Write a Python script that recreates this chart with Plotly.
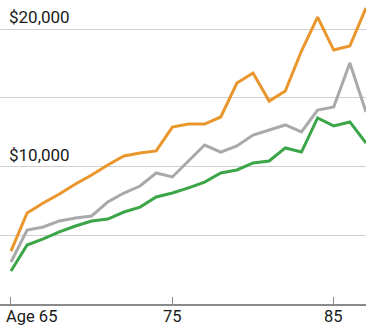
import plotly.graph_objects as go

ages = list(range(65, 88))
orange = [3850, 6620, 7350, 8000, 8730, 9380, 10110, 10760, 10980, 11130, 12870, 13090,
          13090, 13600, 16070, 16800, 14760, 15490, 18400, 20870, 18470, 18760, 21530]
gray = [3050, 5380, 5600, 6040, 6250, 6400, 7420, 8070, 8580, 9530, 9240, 10400,
        11560, 11050, 11490, 12290, 12650, 13020, 12510, 14110, 14330, 17530, 13960]
green = [2400, 4290, 4730, 5240, 5670, 6040, 6180, 6690, 7050, 7780, 8070, 8440,
         8870, 9530, 9750, 10260, 10400, 11350, 11050, 13530, 12950, 13240, 11710]

series = [("orange", orange, "#E9962C"), ("gray", gray, "#A9A9A9"), ("green", green, "#3BA548")]

grid_vals = [5000, 10000, 15000, 20000]
ylabel_vals = [10000, 20000]
ylabel_text = ["$10,000", "$20,000"]
xtick_vals = [65, 75, 85]
xtick_text = ["Age 65", "75", "85"]

fig = go.Figure()
for name, vals, color in series:
    fig.add_trace(go.Scatter(x=ages, y=vals, mode="lines", name=name,
                             line=dict(color=color, width=3), showlegend=False,
                             cliponaxis=True))

font_fam = "Roboto, Arial, sans-serif"
annotations = []
for v, t in zip(ylabel_vals, ylabel_text):
    annotations.append(dict(x=0, xref="paper", y=v, yref="y", text=t, showarrow=False,
                            xanchor="left", yanchor="bottom", xshift=7, yshift=0,
                            font=dict(family=font_fam, size=17, color="#1a1a1a")))
for i, (v, t) in enumerate(zip(xtick_vals, xtick_text)):
    annotations.append(dict(x=v, xref="x", y=0, yref="paper", text=t, showarrow=False,
                            xanchor="left" if i == 0 else "center", yanchor="top",
                            xshift=-7 if i == 0 else 0, yshift=-1,
                            font=dict(family=font_fam, size=16.5, color="#1a1a1a")))

fig.update_layout(
    width=366, height=326,
    margin=dict(l=0, r=0, t=0, b=22, autoexpand=False),
    paper_bgcolor="white", plot_bgcolor="white",
    annotations=annotations,
    xaxis=dict(range=[64.32, 87.0], tickvals=xtick_vals, showticklabels=False,
               automargin=False,
               showgrid=False, zeroline=False, showline=True, linecolor="#8a8a8a", linewidth=1.5,
               ticks="inside", ticklen=7, tickcolor="#8a8a8a", tickwidth=1),
    yaxis=dict(range=[0, 22109], tickvals=grid_vals, showticklabels=False, automargin=False,
               showgrid=True, gridcolor="#d0d0d0", gridwidth=1, zeroline=False, showline=False),
)

fig.write_html("out.html")
